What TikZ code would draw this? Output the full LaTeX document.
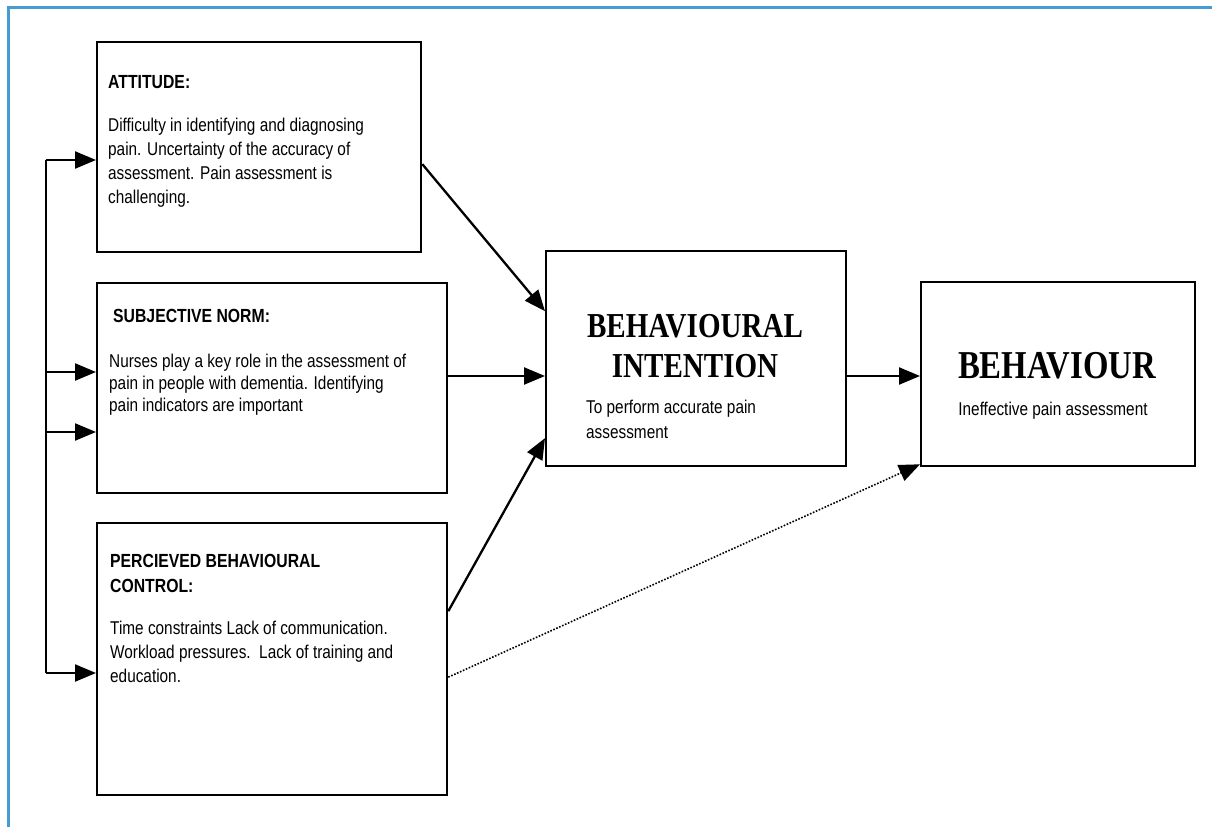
\documentclass[tikz,border=0pt]{standalone}
\usepackage{fontspec}
\setmainfont{Liberation Sans}[FakeStretch=0.83]
\newfontfamily\serifttl{Liberation Serif}[FakeStretch=0.83]
\usetikzlibrary{arrows.meta}
\definecolor{frameblue}{RGB}{72,155,208}
\begin{document}
\begin{tikzpicture}[x=1pt,y=-1pt,
  box/.style={draw, line width=2.3pt, rectangle, inner sep=0pt, anchor=north west},
  body/.style={anchor=base west, inner sep=0pt, align=left, font=\fontsize{18.5}{24}\selectfont},
  ttl/.style={anchor=base west, inner sep=0pt, align=left, font=\fontsize{19}{25}\selectfont\bfseries},
  big/.style={anchor=base, inner sep=0pt, align=center, font=\fontsize{35}{40}\selectfont\serifttl\bfseries},
  arr/.style={line width=2.3pt, -{Triangle[length=21pt,width=17pt]}},
  darr/.style={line width=1.6pt, dash pattern=on 1.6pt off 1.6pt, -{Triangle[length=21pt,width=17pt]}},
]
\useasboundingbox (0,0) rectangle (1212,827);
% frame (top and left only)
\draw[frameblue, line width=3pt] (8,827) -- (8,7) -- (1212,7);

% boxes
\node[box, minimum width=324pt, minimum height=210pt] (att) at (96,41) {};
\node[box, minimum width=350pt, minimum height=210pt] (sn)  at (96,282) {};
\node[box, minimum width=350pt, minimum height=272pt] (pbc) at (96,522) {};
\node[box, minimum width=300pt, minimum height=215pt] (bi)  at (545,250) {};
\node[box, minimum width=274pt, minimum height=184pt] (beh) at (920,281) {};

% texts (base anchor = baseline of the last line)
\node[ttl] (attT) at (108,88) {ATTITUDE:};
\node[body] (attB) at (108,203) {Difficulty in identifying and diagnosing\\pain. Uncertainty of the accuracy of\\assessment. Pain assessment is\\challenging.};

\node[ttl] (snT) at (113,322) {SUBJECTIVE NORM:};
\node[body, font=\fontsize{18.5}{22}\selectfont] (snB) at (109,411) {Nurses play a key role in the assessment of\\pain in people with dementia. Identifying\\pain indicators are important};

\node[ttl] (pbcT) at (110,592) {PERCIEVED BEHAVIOURAL\\CONTROL:};
\node[body] (pbcB) at (110,682) {Time constraints Lack of communication.\\Workload pressures.\ \ Lack of training and\\education.};

\node[big] (biT) at (695,377) {BEHAVIOURAL\\INTENTION};
\node[body, font=\fontsize{18.5}{25}\selectfont] (biB) at (586,438) {To perform accurate pain\\assessment};

\node[big, font=\fontsize{39.5}{40}\selectfont\serifttl\bfseries] (behT) at (1057,378) {BEHAVIOUR};
\node[body, anchor=base] (behB) at (1053,415) {Ineffective pain assessment};

% feedback bracket
\coordinate (b1) at (46,160);
\coordinate (b2) at (46,372);
\coordinate (b3) at (46,432);
\coordinate (b4) at (46,673);
\draw[line width=2.3pt] (b1) -- (b4);
\draw[arr] (b1) -- (b1 -| att.west);
\draw[arr] (b2) -- (b2 -| sn.west);
\draw[arr] (b3) -- (b3 -| sn.west);
\draw[arr] (b4) -- (b4 -| pbc.west);

% main arrows
\coordinate (h1) at (0,376);
\draw[arr] ([yshift=-17pt]att.east) -- ([yshift=47.5pt]bi.west);
\draw[arr] (sn.east |- h1) -- (bi.west |- h1);
\draw[arr] ([yshift=48pt]pbc.east) -- ([yshift=-79.5pt]bi.west);
\draw[arr] (bi.east |- h1) -- (beh.west |- h1);
\draw[darr] ([yshift=-18pt]pbc.east) -- ([yshift=3pt]beh.south west);
\end{tikzpicture}
\end{document}
